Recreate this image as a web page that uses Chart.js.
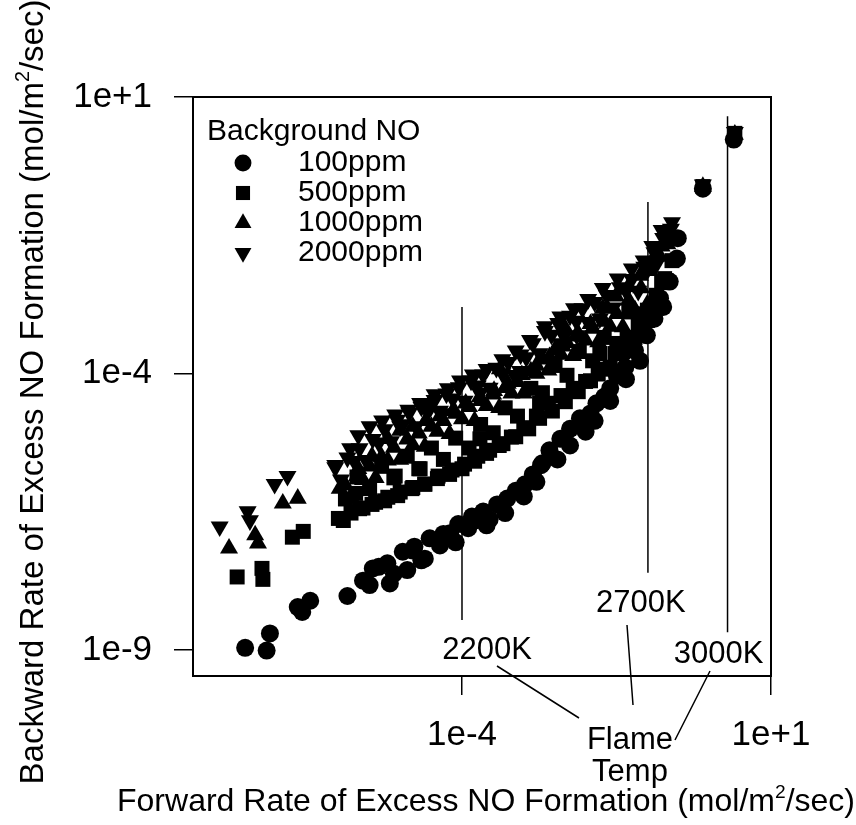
<!DOCTYPE html>
<html lang="en">

<head>
    <meta charset="UTF-8">
    <title>Excess NO Formation</title>
    <script src="https://cdn.jsdelivr.net/npm/chart.js"></script>

    <style>
        html,
        body {
            margin: 0;
            padding: 0;
            background-color: #ffffff;
        }

        .div-grafico {
            width: 856px;
            height: 825px;
        }
    </style>
</head>

<body>
    <div class="div-grafico">
        <canvas id="taxaNO" width="856" height="825"></canvas>
    </div>
</body>

</html>

<script>
    // series (mol/m2/sec), forward rate -> x, backward rate -> y
    var nomesSeries = ['100ppm', '500ppm', '1000ppm', '2000ppm'];

    var fwd100 = [3.1e-8, 6.9e-8, 7.8e-8, 2.2e-7, 2.6e-7, 3.5e-7, 1.4e-6, 2.5e-6, 3.2e-6, 3.6e-6, 6.2e-6, 6.8e-6,
        1.1e-5, 1.3e-5, 1.7e-5, 2.2e-5, 3.0e-5, 4.4e-5, 6.4e-5, 8.7e-5, 1.26e-4, 1.45e-4, 2.2e-4, 2.8e-4, 3.7e-4,
        5.4e-4, 7.4e-4, 1.05e-3, 1.4e-3, 1.9e-3, 2.6e-3, 3.9e-3, 5.6e-3, 8.1e-3, 1.2e-2, 1.5e-2, 2.0e-2, 2.5e-2,
        3.2e-2, 4.4e-2, 6.3e-2, 7.6e-2, 9.8e-2, 0.13, 0.16, 0.18, 0.23, 0.30, 0.31, 0.79, 2.5,
        4.5e-6, 7.9e-6, 1.6e-5, 2.5e-5, 5.0e-5, 7.9e-5, 1.6e-4, 2.5e-4, 5.0e-4, 1.0e-3, 1.6e-3, 2.0e-3,
        3.5e-3, 5.6e-3, 1.0e-2, 1.4e-2, 2.5e-2, 4.5e-2];
    var bwd100 = [1.1e-9, 9.8e-10, 2.0e-9, 6.0e-9, 4.9e-9, 7.8e-9, 9.5e-9, 1.8e-8, 1.5e-8, 3.0e-8, 3.7e-8, 1.6e-8,
        6.0e-8, 2.8e-8, 7.4e-8, 4.2e-8, 1.05e-7, 7.8e-8, 1.3e-7, 1.9e-7, 1.6e-7, 2.6e-7, 3.2e-7, 2.3e-7, 4.3e-7,
        5.5e-7, 7.6e-7, 1.0e-6, 1.5e-6, 2.2e-6, 4.1e-6, 6.6e-6, 1.0e-5, 1.55e-5, 1.9e-5, 2.9e-5, 3.8e-5, 5.4e-5,
        9.1e-5, 1.3e-4, 2.6e-4, 1.7e-4, 4.9e-4, 9.8e-4, 2.3e-3, 1.6e-3, 4.6e-3, 1.2e-2, 2.8e-2, 0.22, 1.7,
        3.2e-8, 2.4e-8, 6.3e-8, 4.5e-8, 1.26e-7, 8.9e-8, 2.2e-7, 1.8e-7, 3.0e-7, 6.0e-7, 1.1e-6, 2.4e-6,
        2.8e-6, 5.0e-6, 8.9e-6, 1.4e-5, 3.2e-5, 7.9e-5];

    var fwd500 = [2.3e-8, 5.8e-8, 6.0e-8, 1.8e-7, 2.7e-7, 1.2e-6, 2.2e-6, 3.5e-6, 5.6e-6, 9.1e-6, 1.55e-5, 2.5e-5,
        4.1e-5, 6.9e-5, 1.1e-4, 1.8e-4, 2.8e-4, 4.6e-4, 7.4e-4, 1.2e-3, 1.8e-3, 2.9e-3, 4.7e-3, 7.6e-3, 1.2e-2,
        1.9e-2, 3.0e-2, 4.7e-2, 7.1e-2, 0.10, 0.14, 0.19, 0.25, 0.79, 2.6,
        1.9e-6, 8.3e-6, 2.1e-5, 1.95e-4, 1.8e-3, 1.7e-2,
        1.0e-6, 1.6e-6, 2.5e-6, 4.0e-6, 6.3e-6, 1.0e-5, 1.6e-5, 2.5e-5, 4.0e-5, 6.3e-5, 1.0e-4, 1.6e-4,
        2.5e-4, 4.0e-4, 6.3e-4, 1.0e-3, 1.6e-3, 2.5e-3, 4.0e-3, 6.3e-3, 1.0e-2, 1.6e-2, 2.5e-2, 4.0e-2,
        6.3e-2, 0.10, 0.14, 0.20,
        1.3e-6, 3.2e-6, 7.9e-6, 2.0e-5, 5.0e-5, 1.3e-4, 3.2e-4, 7.9e-4, 2.0e-3, 5.0e-3, 1.3e-2, 3.2e-2,
        7.9e-2, 0.17,
        2.0e-6, 5.0e-6, 1.3e-5, 3.2e-5, 7.9e-5, 2.0e-4, 5.0e-4, 1.3e-3, 3.2e-3, 7.9e-3, 2.0e-2, 5.0e-2];
    var bwd500 = [2.1e-8, 3.0e-8, 1.9e-8, 1.1e-7, 1.4e-7, 2.2e-7, 3.6e-7, 4.3e-7, 5.0e-7, 6.2e-7, 8.3e-7, 1.0e-6,
        1.4e-6, 1.8e-6, 2.3e-6, 3.2e-6, 4.1e-6, 5.4e-6, 7.2e-6, 1.0e-5, 1.55e-5, 2.1e-5, 3.1e-5, 4.7e-5, 7.4e-5,
        1.2e-4, 2.3e-4, 4.3e-4, 7.9e-4, 1.4e-3, 2.6e-3, 5.2e-3, 1.1e-2, 0.24, 2.2,
        6.8e-7, 1.4e-6, 1.9e-6, 6.6e-6, 2.9e-5, 2.3e-4,
        2.4e-7, 3.0e-7, 3.7e-7, 4.7e-7, 5.8e-7, 7.2e-7, 8.7e-7, 1.0e-6, 1.26e-6, 1.5e-6, 1.9e-6, 2.6e-6,
        3.6e-6, 5.0e-6, 7.1e-6, 1.05e-5, 1.7e-5, 2.9e-5, 4.0e-5, 5.4e-5, 7.2e-5, 9.8e-5, 1.3e-4, 2.5e-4,
        4.5e-4, 9.1e-4, 1.6e-3, 4.8e-3,
        5.4e-7, 8.3e-7, 1.3e-6, 1.9e-6, 2.8e-6, 4.5e-6, 8.5e-6, 1.7e-5, 4.5e-5, 9.3e-5, 1.7e-4, 3.5e-4,
        1.2e-3, 4.4e-3,
        1.35e-6, 2.1e-6, 3.2e-6, 4.5e-6, 6.8e-6, 1.2e-5, 2.4e-5, 5.4e-5, 1.4e-4, 2.5e-4, 4.5e-4, 1.3e-3];

    var fwd1000 = [1.7e-8, 4.5e-8, 5.0e-8, 1.26e-7, 2.2e-7, 1.05e-6, 2.1e-6, 3.5e-6, 6.3e-6, 1.0e-5, 1.6e-5, 2.6e-5,
        4.4e-5, 7.1e-5, 1.15e-4, 1.95e-4, 3.3e-4, 5.5e-4, 9.3e-4, 1.6e-3, 2.6e-3, 4.3e-3, 6.9e-3, 1.2e-2, 1.9e-2,
        3.1e-2, 4.9e-2, 7.6e-2, 0.12, 0.17, 0.23, 0.79, 2.6,
        3.0e-5, 4.1e-4, 4.7e-3,
        1.3e-6, 2.0e-6, 3.2e-6, 5.0e-6, 7.9e-6, 1.3e-5, 2.0e-5, 3.2e-5, 5.0e-5, 7.9e-5, 1.3e-4, 2.0e-4,
        3.2e-4, 5.0e-4, 7.9e-4, 1.3e-3, 2.0e-3, 3.2e-3, 5.0e-3, 7.9e-3, 1.3e-2, 2.0e-2, 3.2e-2, 5.0e-2,
        7.9e-2, 0.11, 0.16, 0.21,
        1.6e-6, 4.0e-6, 1.0e-5, 2.5e-5, 6.3e-5, 1.6e-4, 4.0e-4, 1.0e-3, 2.5e-3, 6.3e-3, 1.6e-2, 4.0e-2, 0.10,
        2.5e-6, 6.3e-6, 1.6e-5, 4.0e-5, 1.0e-4, 2.5e-4, 6.3e-4, 1.6e-3, 4.0e-3, 1.0e-2, 2.5e-2, 6.3e-2];
    var bwd1000 = [6.9e-8, 1.2e-7, 8.5e-8, 4.5e-7, 5.5e-7, 8.3e-7, 1.9e-6, 3.2e-6, 6.6e-6, 9.3e-6, 1.1e-5, 1.4e-5,
        1.7e-5, 2.1e-5, 2.9e-5, 3.8e-5, 4.9e-5, 6.6e-5, 9.5e-5, 1.4e-4, 2.0e-4, 3.1e-4, 4.7e-4, 7.9e-4, 1.5e-3,
        2.5e-3, 3.7e-3, 5.9e-3, 1.1e-2, 2.0e-2, 3.4e-2, 0.24, 2.1,
        2.9e-5, 1.2e-4, 6.5e-4,
        9.5e-7, 1.4e-6, 2.1e-6, 3.1e-6, 4.6e-6, 6.5e-6, 8.3e-6, 1.1e-5, 1.4e-5, 1.9e-5, 2.5e-5, 3.2e-5,
        4.2e-5, 5.5e-5, 7.1e-5, 1.1e-4, 1.8e-4, 2.7e-4, 3.6e-4, 4.9e-4, 6.5e-4, 8.7e-4, 1.2e-3, 2.1e-3,
        3.5e-3, 7.2e-3, 1.3e-2, 2.2e-2,
        5.8e-7, 1.3e-6, 2.8e-6, 4.8e-6, 8.1e-6, 1.4e-5, 2.4e-5, 4.4e-5, 1.15e-4, 2.1e-4, 3.7e-4, 6.9e-4, 1.8e-3,
        1.2e-6, 2.7e-6, 5.1e-6, 8.9e-6, 1.5e-5, 2.6e-5, 4.4e-5, 1.0e-4, 2.2e-4, 4.0e-4, 7.1e-4, 1.4e-3];

    var fwd2000 = [1.2e-8, 3.4e-8, 3.7e-8, 9.3e-8, 1.5e-7, 8.9e-7, 1.55e-6, 2.1e-6, 3.2e-6, 5.1e-6, 8.3e-6, 1.35e-5,
        2.1e-5, 3.6e-5, 5.9e-5, 9.3e-5, 1.5e-4, 2.5e-4, 4.5e-4, 7.4e-4, 1.26e-3, 2.2e-3, 3.9e-3, 6.5e-3, 1.1e-2,
        1.9e-2, 3.3e-2, 5.6e-2, 8.7e-2, 0.12, 0.17, 0.25, 0.79, 2.6,
        1.0e-5, 4.4e-5, 1.95e-4, 8.7e-4, 3.9e-3, 7.2e-3, 1.7e-2,
        8.9e-7, 1.4e-6, 2.2e-6, 3.6e-6, 5.6e-6, 8.9e-6, 1.4e-5, 2.2e-5, 3.6e-5, 5.6e-5, 8.9e-5, 1.4e-4,
        2.2e-4, 3.6e-4, 5.6e-4, 8.9e-4, 1.4e-3, 2.2e-3, 3.6e-3, 5.6e-3, 8.9e-3, 1.4e-2, 2.2e-2, 3.6e-2,
        5.6e-2, 8.9e-2, 0.13, 0.18, 0.24,
        1.1e-6, 2.8e-6, 7.1e-6, 1.8e-5, 4.5e-5, 1.1e-4, 2.8e-4, 7.1e-4, 1.8e-3, 4.5e-3, 1.1e-2, 2.8e-2,
        7.1e-2, 0.14,
        1.8e-6, 4.5e-6, 1.1e-5, 2.8e-5, 7.1e-5, 1.8e-4, 4.5e-4, 1.1e-3, 2.8e-3, 7.1e-3, 1.8e-2, 4.5e-2, 0.10];
    var bwd2000 = [1.7e-7, 3.2e-7, 2.2e-7, 1.0e-6, 1.4e-6, 2.2e-6, 4.4e-6, 7.6e-6, 1.1e-5, 1.4e-5, 1.8e-5, 2.2e-5,
        2.9e-5, 4.2e-5, 5.4e-5, 7.4e-5, 9.5e-5, 1.2e-4, 1.8e-4, 2.6e-4, 4.0e-4, 7.1e-4, 1.07e-3, 1.5e-3, 2.2e-3,
        3.5e-3, 5.2e-3, 7.9e-3, 1.1e-2, 2.0e-2, 3.9e-2, 5.4e-2, 0.26, 2.3,
        1.1e-5, 2.1e-5, 4.4e-5, 1.1e-4, 3.5e-4, 4.9e-4, 9.8e-4,
        2.0e-6, 3.0e-6, 4.4e-6, 6.5e-6, 9.8e-6, 1.45e-5, 1.95e-5, 2.5e-5, 3.3e-5, 4.3e-5, 5.6e-5, 7.4e-5,
        9.5e-5, 1.26e-4, 1.6e-4, 2.2e-4, 3.5e-4, 5.8e-4, 8.1e-4, 1.1e-3, 1.5e-3, 1.95e-3, 2.6e-3, 3.6e-3,
        5.1e-3, 8.5e-3, 1.55e-2, 2.8e-2, 4.1e-2,
        1.2e-6, 2.7e-6, 5.9e-6, 1.1e-5, 1.9e-5, 3.2e-5, 5.5e-5, 9.3e-5, 2.3e-4, 4.7e-4, 8.5e-4, 1.55e-3,
        3.1e-3, 9.5e-3,
        2.6e-6, 5.6e-6, 1.2e-5, 2.0e-5, 3.5e-5, 6.0e-5, 1.0e-4, 1.95e-4, 5.0e-4, 8.9e-4, 1.6e-3, 3.1e-3, 7.4e-3];

    var xTicks = [1e-4, 1e+1];
    var xTickLabels = ['1e-4', '1e+1'];
    var yTicks = [1e-9, 1e-4, 1e+1];
    var yTickLabels = ['1e-9', '1e-4', '1e+1'];

    // flame temperature marker lines
    var flameLabels = ['2200K', '2700K', '3000K'];
    var flameX = [1e-4, 0.102, 1.98];
    var flameTop = [1.6e-3, 0.126, 4.5];
    var flameBottom = [3.5e-9, 2.5e-8, 2.1e-9];

    var FONTE = '"Liberation Sans", Arial, Helvetica, sans-serif';

    function pares(xs, ys) {
        return xs.map(function (x, i) {
            return { x: x, y: ys[i] };
        });
    }

    var estilos = [
        { pointStyle: 'circle', radius: 9, rotation: 0 },
        { pointStyle: 'rect', radius: 10.6, rotation: 0 },
        { pointStyle: 'triangle', radius: 10.4, rotation: 0 },
        { pointStyle: 'triangle', radius: 10.4, rotation: 180 }
    ];
    var dados = [pares(fwd100, bwd100), pares(fwd500, bwd500), pares(fwd1000, bwd1000), pares(fwd2000, bwd2000)];

    var datasets = nomesSeries.map(function (nome, i) {
        return {
            label: nome,
            data: dados[i],
            pointStyle: estilos[i].pointStyle,
            pointRadius: estilos[i].radius,
            pointRotation: estilos[i].rotation,
            pointBorderWidth: 0,
            backgroundColor: '#000',
            borderColor: '#000',
            showLine: false
        };
    });

    function desenhaMarcador(ctx, estilo, x, y) {
        if (Chart.helpers && Chart.helpers.drawPoint) {
            Chart.helpers.drawPoint(ctx, {
                pointStyle: estilo.pointStyle, rotation: estilo.rotation,
                radius: estilo.radius * 0.94, borderWidth: 0
            }, x, y);
            return;
        }
        ctx.beginPath();
        ctx.arc(x, y, estilo.radius, 0, Math.PI * 2);
        ctx.fill();
    }

    // text with a superscript piece, centred on x
    function textoRico(ctx, partes, x, y, tamanho) {
        var total = 0;
        partes.forEach(function (p) {
            ctx.font = (p.sup ? tamanho * 0.6 : tamanho) + 'px ' + FONTE;
            p.w = ctx.measureText(p.t).width;
            total += p.w;
        });
        var cx = x - total / 2;
        ctx.textAlign = 'left';
        ctx.textBaseline = 'alphabetic';
        partes.forEach(function (p) {
            ctx.font = (p.sup ? tamanho * 0.6 : tamanho) + 'px ' + FONTE;
            ctx.fillText(p.t, cx, p.sup ? y - tamanho * 0.42 : y);
            cx += p.w;
        });
    }

    var anotacoes = {
        id: 'anotacoes',
        afterDraw: function (chart) {
            var ctx = chart.ctx;
            var area = chart.chartArea;
            var sx = chart.scales.x;
            var sy = chart.scales.y;
            ctx.save();
            ctx.fillStyle = '#000';
            ctx.strokeStyle = '#000';

            // frame
            ctx.lineWidth = 2;
            ctx.strokeRect(area.left, area.top, area.right - area.left, area.bottom - area.top);

            // flame temperature lines and labels
            var rotuloDx = [25, -7, -9];
            var rotuloDy = [30, 31, 22];
            ctx.lineWidth = 1.5;
            ctx.font = '31px ' + FONTE;
            ctx.textAlign = 'center';
            ctx.textBaseline = 'middle';
            flameLabels.forEach(function (txt, i) {
                var px = sx.getPixelForValue(flameX[i]);
                var yb = sy.getPixelForValue(flameBottom[i]);
                ctx.beginPath();
                ctx.moveTo(px, sy.getPixelForValue(flameTop[i]));
                ctx.lineTo(px, yb);
                ctx.stroke();
                ctx.fillText(txt, px + rotuloDx[i], yb + rotuloDy[i]);
            });

            // leaders to "Flame Temp"
            ctx.beginPath();
            ctx.moveTo(497, 666); ctx.lineTo(579, 718);
            ctx.moveTo(627, 625); ctx.lineTo(633, 705);
            ctx.moveTo(710, 671); ctx.lineTo(675, 740);
            ctx.stroke();
            ctx.textBaseline = 'alphabetic';
            ctx.fillText('Flame', 630, 749);
            ctx.fillText('Temp', 630, 781);

            // legend
            ctx.font = '30px ' + FONTE;
            ctx.textAlign = 'left';
            ctx.fillText('Background NO', area.left + 14, area.top + 43);
            ctx.textBaseline = 'middle';
            nomesSeries.forEach(function (nome, i) {
                var yy = area.top + 66 + i * 30;
                desenhaMarcador(ctx, estilos[i], area.left + 50, yy);
                ctx.fillText(nome, area.left + 105, yy);
            });

            // axis titles
            textoRico(ctx, [{ t: 'Forward Rate of Excess NO Formation (mol/m' }, { t: '2', sup: true }, { t: '/sec)' }],
                486, 811, 32);
            ctx.translate(43, 392);
            ctx.rotate(-Math.PI / 2);
            textoRico(ctx, [{ t: 'Backward Rate of Excess NO Formation (mol/m' }, { t: '2', sup: true }, { t: '/sec)' }],
                0, 0, 33);
            ctx.restore();
        }
    };

    function eixo(ticks, rotulos, min, tamanho, padding) {
        return {
            type: 'logarithmic',
            min: min,
            max: 10,
            afterBuildTicks: function (scale) {
                scale.ticks = ticks.map(function (v) { return { value: v }; });
            },
            afterFit: function (scale) {
                if (scale.isHorizontal()) {
                    scale.height = tamanho;
                } else {
                    scale.width = tamanho;
                }
            },
            grid: {
                display: true,
                drawOnChartArea: false,
                drawTicks: true,
                tickLength: 19,
                color: '#000',
                lineWidth: 1.5
            },
            border: { display: true, color: '#000', width: 2 },
            ticks: {
                color: '#000',
                font: { family: FONTE, size: 35 },
                padding: padding,
                autoSkip: false,
                maxRotation: 0,
                callback: function (value) {
                    var i = ticks.indexOf(value);
                    return i >= 0 ? rotulos[i] : '';
                }
            }
        };
    }

    var taxaNO = new Chart(document.getElementById('taxaNO').getContext('2d'), {
        type: 'scatter',
        data: { datasets: datasets },
        options: {
            responsive: false,
            animation: false,
            layout: { padding: { left: 0, top: 97, right: 85, bottom: 0 } },
            plugins: {
                legend: { display: false },
                tooltip: { enabled: false }
            },
            scales: {
                x: eixo(xTicks, xTickLabels, 4.44e-9, 149, 19),
                y: eixo(yTicks, yTickLabels, 3.4e-10, 193, 22)
            }
        },
        plugins: [anotacoes]
    });
</script>
